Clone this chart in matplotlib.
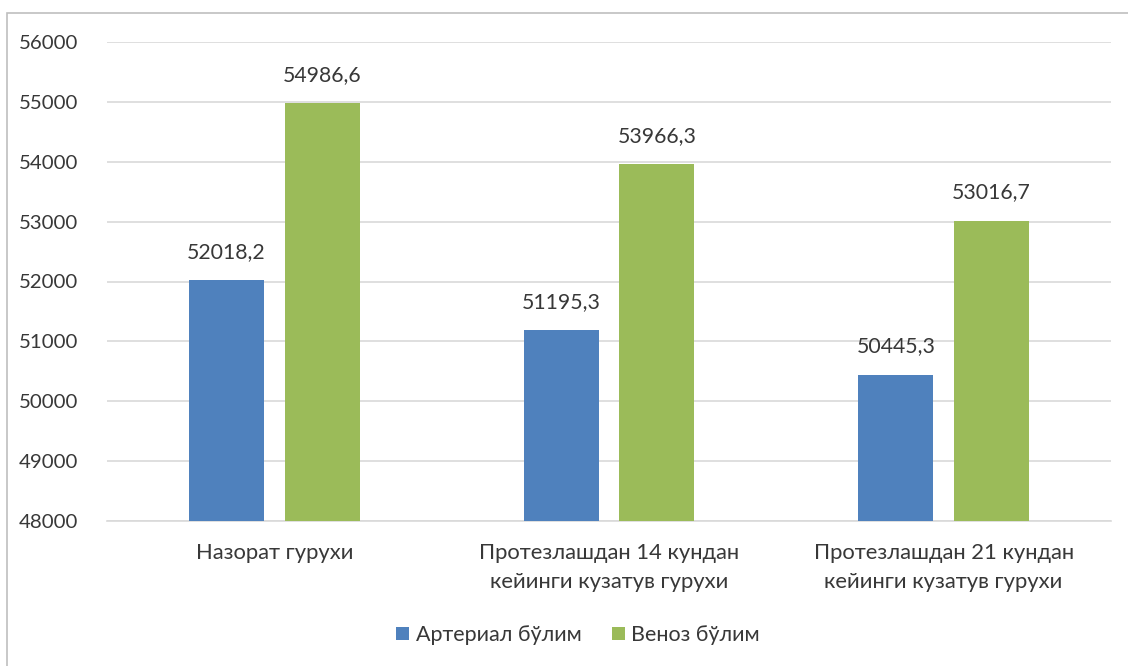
import matplotlib
matplotlib.use("Agg")
import matplotlib.pyplot as plt
from matplotlib.patches import Rectangle
import numpy as np

categories = ["Назорат гурухи",
              "Протезлашдан 14 кундан\nкейинги кузатув гурухи",
              "Протезлашдан 21 кундан\nкейинги кузатув гурухи"]
arterial = [52018.2, 51195.3, 50445.3]
venous = [54986.6, 53966.3, 53016.7]
labels_art = ["52018,2", "51195,3", "50445,3"]
labels_ven = ["54986,6", "53966,3", "53016,7"]
series_names = ["Артериал бўлим", "Веноз бўлим"]
yticks = [48000, 49000, 50000, 51000, 52000, 53000, 54000, 55000, 56000]

plt.rcParams['font.family'] = ['Lato', 'DejaVu Sans']
txt = '#383838'

fig = plt.figure(figsize=(11.28, 6.66), dpi=100)
ax = fig.add_axes([107/1128, 1-521/666, (1111-107)/1128, (521-42)/666])

x = np.arange(len(categories))
w = 0.224
off = 0.143
c1, c2 = '#4F81BD', '#9BBB59'
b1 = ax.bar(x - off, [a - 48000 for a in arterial], w, bottom=48000, color=c1, label=series_names[0], zorder=3)
b2 = ax.bar(x + off, [v - 48000 for v in venous], w, bottom=48000, color=c2, label=series_names[1], zorder=3)

for xi, v, l in zip(x - off, arterial, labels_art):
    ax.annotate(l, (xi, v), xytext=(0, 13), textcoords='offset points', ha='center', va='bottom', fontsize=15.3, color=txt)
for xi, v, l in zip(x + off, venous, labels_ven):
    ax.annotate(l, (xi, v), xytext=(0, 13), textcoords='offset points', ha='center', va='bottom', fontsize=15.3, color=txt)

ax.set_xlim(-0.5, 2.5)
ax.set_ylim(48000, 56000)
ax.set_yticks(yticks)
ax.set_yticklabels([str(t) for t in yticks])
ax.set_xticks(x)
ax.set_xticklabels(categories, linespacing=1.52)
ax.tick_params(axis='y', length=0, pad=21, labelsize=14.7, labelcolor=txt)
ax.tick_params(axis='x', length=0, pad=16, labelsize=15.8, labelcolor=txt)
ax.grid(axis='y', color='#D9D9D9', linewidth=1.2, zorder=0)
for s in ['top', 'right', 'left']:
    ax.spines[s].set_visible(False)
ax.spines['bottom'].set_color('#D9D9D9')
ax.spines['bottom'].set_linewidth(1.2)

leg = fig.legend(handles=[b1, b2], labels=series_names, loc='center', bbox_to_anchor=(578/1128, 1-635/666),
                 ncol=2, frameon=False, fontsize=15.5, handlelength=0.6, handleheight=0.6,
                 handletextpad=0.3, columnspacing=1.4)
for t in leg.get_texts():
    t.set_color(txt)

fig.patches.append(Rectangle((7/1128, -0.1), 1.2, 1 - 13/666 + 0.1, transform=fig.transFigure,
                             fill=False, edgecolor='#BFBFBF', linewidth=1.2))

fig.savefig('out.png', dpi=100)
